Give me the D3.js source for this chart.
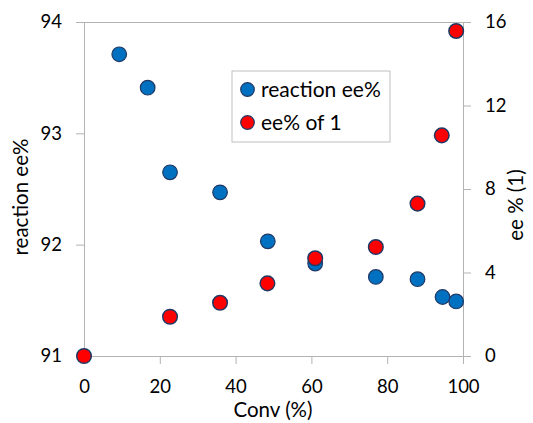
<!DOCTYPE html>
<html>
<head>
<meta charset="utf-8">
<script src="https://cdn.jsdelivr.net/npm/d3@7/dist/d3.min.js"></script>
<style>
html,body{margin:0;padding:0;background:#fff;}
svg{display:block;font-family:Lato, "Open Sans", sans-serif;}
</style>
</head>
<body>
<svg id="chart" width="533" height="423"></svg>
<script>
const convBlue = [9.3, 16.8, 22.7, 35.9, 48.5, 61, 77, 88, 94.6, 98.2];
const reactionEE = [93.71, 93.41, 92.65, 92.47, 92.03, 91.83, 91.71, 91.69, 91.53, 91.49];
const convRed = [0, 22.7, 35.9, 48.4, 61, 77, 88, 94.4, 98.2];
const eeOf1 = [0, 1.88, 2.55, 3.48, 4.68, 5.22, 7.3, 10.57, 15.57];
const xTicks = [0, 20, 40, 60, 80, 100];
const yLeftTicks = [91, 92, 93, 94];
const yRightTicks = [0, 4, 8, 12, 16];
const legendLabels = ["reaction ee%", "ee% of 1"];

const svg = d3.select("#chart");
const L = 84, R = 463, T = 22, B = 356;
const x = d3.scaleLinear().domain([0, 100]).range([L, R]);
const yL = d3.scaleLinear().domain([91, 94]).range([B, T]);
const yR = d3.scaleLinear().domain([0, 16]).range([B, T]);
const axisColor = "#b3b3b3";
const fs = 18.5;

// top border
svg.append("line").attr("x1", L).attr("x2", R).attr("y1", T + 0.5).attr("y2", T + 0.5)
  .attr("stroke", axisColor).attr("stroke-width", 1);

const gx = svg.append("g").attr("transform", `translate(0,${B})`)
  .call(d3.axisBottom(x).tickValues(xTicks).tickSize(8).tickSizeOuter(0).tickPadding(16));
const gl = svg.append("g").attr("transform", `translate(${L},0)`)
  .call(d3.axisLeft(yL).tickValues(yLeftTicks).tickFormat(d3.format("d")).tickSize(8).tickSizeOuter(0).tickPadding(14));
const gr = svg.append("g").attr("transform", `translate(${R},0)`)
  .call(d3.axisRight(yR).tickValues(yRightTicks).tickSize(8).tickSizeOuter(0).tickPadding(14));

[gx, gl, gr].forEach(g => {
  g.selectAll("path").attr("stroke", axisColor);
  g.selectAll("line").attr("stroke", axisColor);
  g.selectAll("text").attr("font-size", fs).attr("fill", "#000").attr("font-family", "Lato");
});

// axis titles
const tfs = 20.5;
svg.append("text").attr("x", 273).attr("y", 417).attr("text-anchor", "middle")
  .attr("font-size", tfs).attr("fill", "#000").text("Conv (%)");
svg.append("text").attr("transform", `translate(28,197) rotate(-90)`).attr("text-anchor", "middle")
  .attr("font-size", tfs).attr("fill", "#000").text("reaction ee%");
svg.append("text").attr("transform", `translate(523,205) rotate(-90)`).attr("text-anchor", "middle")
  .attr("font-size", tfs).attr("fill", "#000").text("ee % (1)");

const r = 7.3;
svg.append("g").selectAll("circle").data(convBlue.map((c, i) => [c, reactionEE[i]])).join("circle")
  .attr("cx", d => x(d[0])).attr("cy", d => yL(d[1])).attr("r", r)
  .attr("fill", "#0070c0").attr("stroke", "#203864").attr("stroke-width", 1.2);
svg.append("g").selectAll("circle").data(convRed.map((c, i) => [c, eeOf1[i]])).join("circle")
  .attr("cx", d => x(d[0])).attr("cy", d => yR(d[1])).attr("r", r)
  .attr("fill", "#ff0000").attr("stroke", "#203864").attr("stroke-width", 1.5);

// legend
const lg = svg.append("g");
lg.append("rect").attr("x", 232).attr("y", 71).attr("width", 158).attr("height", 71)
  .attr("fill", "#fff").attr("stroke", "#bfbfbf").attr("stroke-width", 1);
const colors = ["#0070c0", "#ff0000"];
legendLabels.forEach((t, i) => {
  const cy = 89.5 + i * 33;
  lg.append("circle").attr("cx", 247.5).attr("cy", cy).attr("r", 6.8)
    .attr("fill", colors[i]).attr("stroke", "#203864").attr("stroke-width", 1.2);
  lg.append("text").attr("x", 261).attr("y", cy).attr("dy", "0.35em")
    .attr("font-size", 21).attr("fill", "#000").text(t);
});
</script>
</body>
</html>
